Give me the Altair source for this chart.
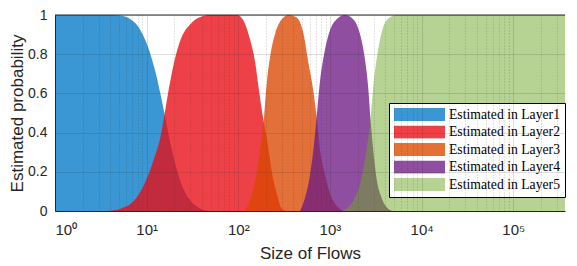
import altair as alt
import pandas as pd

layers = ["Estimated in Layer1", "Estimated in Layer2", "Estimated in Layer3",
          "Estimated in Layer4", "Estimated in Layer5"]

L1_x = [1, 3, 4.5, 5.2, 6.7, 8.6, 10.6, 12.5, 14.2, 15.7, 17.5, 19.9, 23.4, 30.1, 38.6, 49]
L1_y = [1, 1, 1, 0.997, 0.978, 0.921, 0.823, 0.708, 0.593, 0.495, 0.381, 0.265, 0.151, 0.053, 0.012, 0]

L2_x = [3.7, 5.2, 7.3, 9.4, 12.0, 14.2, 15.7, 17.5, 19.9, 23.4, 30.1, 38.6, 49.6, 96.8,
        114.5, 135, 153, 167, 181, 214, 232, 264, 298.5, 338]
L2_y = [0, 0.012, 0.053, 0.135, 0.265, 0.381, 0.495, 0.626, 0.757, 0.872, 0.954, 0.99, 1.0, 1.0,
        0.970, 0.872, 0.757, 0.626, 0.511, 0.315, 0.20, 0.086, 0.012, 0]

L3_x = [114.5, 124.3, 141, 159.7, 173.5, 191.7, 205, 222.8, 252.6, 298.5, 353, 434.5, 514, 582,
        660, 716, 778, 883, 1043, 1400]
L3_y = [0, 0.02, 0.086, 0.20, 0.315, 0.49, 0.659, 0.79, 0.905, 0.978, 1.0, 0.987, 0.905, 0.757,
        0.61, 0.48, 0.315, 0.184, 0.069, 0]

L4_x = [472, 535, 606, 660, 716, 778, 883, 1000, 1183, 1456, 1796, 2119, 2400, 2614, 2768, 2963,
        3220, 3648, 4314, 4887]
L4_y = [0, 0.069, 0.184, 0.315, 0.48, 0.659, 0.823, 0.921, 0.978, 1.0, 0.978, 0.905, 0.779, 0.63,
        0.47, 0.315, 0.167, 0.069, 0.012, 0]

L5_x = [1374, 1520, 1871, 2212, 2506, 2768, 3007, 3357, 3804, 4487, 5309, 500000]
L5_y = [0, 0.012, 0.069, 0.167, 0.315, 0.47, 0.659, 0.823, 0.938, 0.987, 1.0, 1.0]

# fill colours (drawn with the opacities below) and legend swatch colours (as seen on white)
colors = ["#027AC7", "#E90B13", "#DB4800", "#6F1C84", "#6DA727"]
opacities = [0.78, 0.78, 0.78, 0.78, 0.5]
swatch_colors = ["#3A97D3", "#EE4147", "#E37035", "#8F4E9F", "#B6D393"]

y_ticks = [0, 0.2, 0.4, 0.6, 0.8, 1.0]
x_max = 367000
x_ticks = [m * 10 ** k for k in range(0, 6) for m in range(1, 10) if m * 10 ** k <= x_max]

all_x = [L1_x, L2_x, L3_x, L4_x, L5_x]
all_y = [L1_y, L2_y, L3_y, L4_y, L5_y]

is_major = "abs(log(datum.value)/LN10 - round(log(datum.value)/LN10)) < 0.001"
label_expr = ("(" + is_major + ") ? '10' + ['⁰','¹','²','³','⁴','⁵','⁶'][round(log(datum.value)/LN10)] : ''")

FONT = "Liberation Sans"
TXT = "#262626"

x_enc = alt.X("size:Q",
              scale=alt.Scale(type="log", domain=[1, x_max], nice=False),
              axis=alt.Axis(values=x_ticks, labelExpr=label_expr, title="Size of Flows",
                            grid=True, gridColor=TXT,
                            gridDash={"condition": {"test": is_major, "value": []}, "value": [1, 2]},
                            gridOpacity={"condition": {"test": is_major, "value": 0.15}, "value": 0.25},
                            ticks=False, labelOverlap=False, labelPadding=11, titlePadding=8,
                            labelFontSize=15, titleFontSize=17, labelFont=FONT, titleFont=FONT,
                            labelColor=TXT, titleColor=TXT, titleFontWeight="normal",
                            domainColor=TXT, zindex=1))
y_enc = alt.Y("p:Q", stack=None,
              scale=alt.Scale(domain=[0, 1], nice=False),
              axis=alt.Axis(values=y_ticks, format=".1~f", title="Estimated probability",
                            grid=True, gridColor=TXT, gridOpacity=0.15,
                            ticks=False, labelOverlap=False, labelPadding=8, titlePadding=1,
                            labelFontSize=14, titleFontSize=17, labelFont=FONT, titleFont=FONT,
                            labelColor=TXT, titleColor=TXT, titleFontWeight="normal",
                            domainColor=TXT, zindex=1))

area_layers = []
for name, xs, ys, c, o in zip(layers, all_x, all_y, colors, opacities):
    d = pd.DataFrame({"size": xs, "p": ys})
    area_layers.append(
        alt.Chart(d).mark_area(interpolate="monotone", clip=True, color=c, opacity=o)
        .encode(x=x_enc, y=y_enc)
    )

legend_df = pd.DataFrame({"layer": layers})
legend_layer = alt.Chart(legend_df).mark_square(opacity=0, size=0).encode(
    x=alt.value(100), y=alt.value(100),
    color=alt.Color("layer:N", scale=alt.Scale(domain=layers, range=swatch_colors), title=None,
                    legend=alt.Legend(
                        orient="none", legendX=334, legendY=88,
                        symbolType="M-1,-0.255H1V0.255H-1Z", symbolSize=2601,
                        symbolStrokeWidth=0, symbolOpacity=1, clipHeight=13,
                        labelFont="Liberation Serif", labelFontSize=13.7, labelColor="black",
                        labelOffset=4, rowPadding=2.5, padding=5, strokeColor="black",
                        fillColor="white", cornerRadius=0, labelLimit=250)),
)

top_border = alt.Chart(pd.DataFrame({"p": [1.0]})).mark_rule(color=TXT, strokeWidth=1).encode(
    y=y_enc
)

chart = alt.layer(*area_layers, top_border, legend_layer).properties(
    width=510, height=196, padding=0).configure_view(stroke=None)

chart.save("out.html", embed_options={"renderer": "svg", "actions": False})
